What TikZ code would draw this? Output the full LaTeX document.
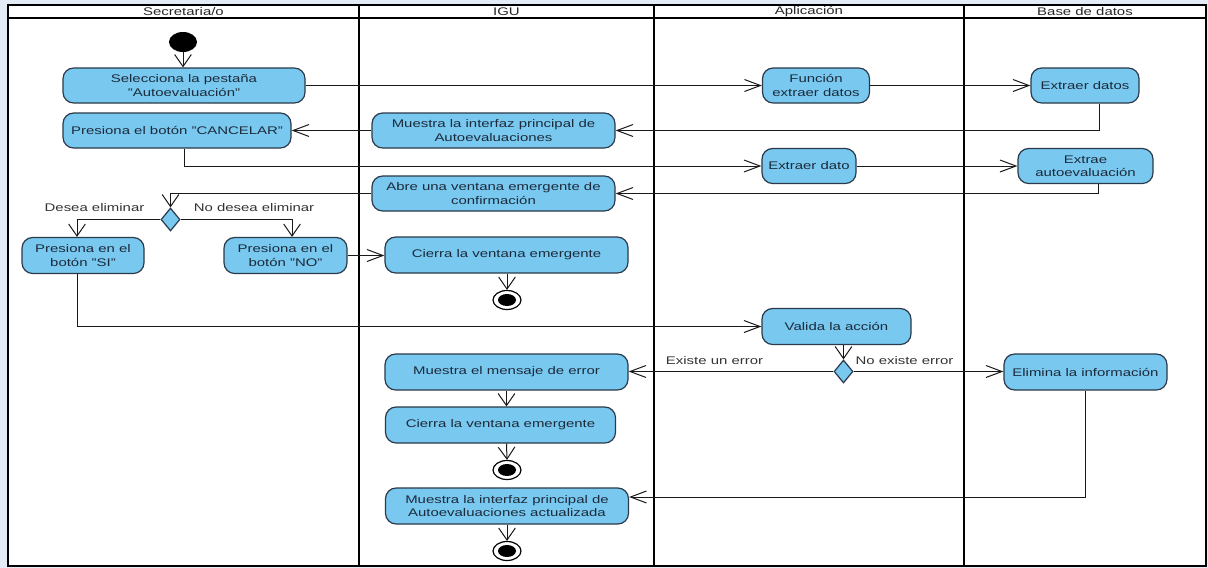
\documentclass[tikz,border=0pt]{standalone}
\usepackage{fontspec}
\setmainfont{Liberation Sans}[FakeStretch=1.35]
\usetikzlibrary{arrows.meta,shapes.geometric}
\definecolor{actfill}{HTML}{78C8F0}
\definecolor{actline}{HTML}{2B3A4A}
\definecolor{txt}{HTML}{1C2A3A}
\definecolor{bgblue}{HTML}{E3ECF6}
\begin{document}
\begin{tikzpicture}[x=0.75pt,y=-0.75pt,
  font=\fontsize{8.3}{9.9}\selectfont,
  act/.style={draw=actline, fill=actfill, rounded corners=8pt, line width=0.9pt, text=txt, align=center, inner sep=1pt},
  sz/.style 2 args={minimum width=#1*0.75pt, minimum height=#2*0.75pt},
  dec/.style={diamond, draw=actline, fill=actfill, line width=0.9pt, inner sep=0pt, minimum width=19*0.75pt, minimum height=23*0.75pt},
  fin/.style={ellipse, draw=black, line width=0.9pt, fill=white, inner sep=0pt, minimum width=28*0.75pt, minimum height=19*0.75pt},
  startnode/.style={ellipse, fill=black, inner sep=0pt, minimum width=28*0.75pt, minimum height=20*0.75pt},
  harr/.style={-{Straight Barb[length=12pt,width=9pt]}, line width=0.75pt, draw=black!90},
  varr/.style={-{Straight Barb[length=9pt,width=12.5pt]}, line width=0.75pt, draw=black!90},
  lbl/.style={text=black!80, inner sep=0pt},
  hdr/.style={text=black!85, inner sep=0pt}]
\useasboundingbox (0,0) rectangle (1208,568);
\fill[bgblue] (0,0) rectangle (1208,568);
\fill[white] (8,5) rectangle (1206,566);
% swimlanes
\draw[line width=1.5pt] (8,5) rectangle (1206,566);
\draw[line width=1.3pt] (8,18) -- (1206,18);
\draw[line width=2pt] (359,5) -- (359,566);
\draw[line width=2pt] (654,5) -- (654,566);
\draw[line width=2pt] (964,5) -- (964,566);
\node[hdr] (h1) at (183.5,12) {Secretaria/o};
\node[hdr] (h2) at (506.5,12) {IGU};
\node[hdr] (h3) at (809,12) {Aplicación};
\node[hdr] (h4) at (1085,12) {Base de datos};
% nodes
\node[startnode] (init) at (183,42) {};
\node[act, sz={242}{35}] (n1) at (184,85.5) {Selecciona la pestaña\\"Autoevaluación"};
\node[act, sz={228}{35}] (n2) at (177,130.5) {Presiona el botón "CANCELAR"};
\node[act, sz={243}{35}] (n3) at (493.5,130.5) {Muestra la interfaz principal de\\Autoevaluaciones};
\node[act, sz={243}{35}] (n4) at (493.5,193.5) {Abre una ventana emergente de\\confirmación};
\node[act, sz={107}{35}] (a1) at (816,85.5) {Función\\extraer datos};
\node[act, sz={94}{35}] (a2) at (809,166) {Extraer dato};
\node[act, sz={108}{35}] (d1) at (1085,85.5) {Extraer datos};
\node[act, sz={135}{35}] (d2) at (1085.5,166) {Extrae\\autoevaluación};
\node[dec] (k1) at (170.5,219.5) {};
\node[act, sz={122}{36}] (s1) at (83,255.5) {Presiona en el\\botón "SI"};
\node[act, sz={123}{36}] (s2) at (285.5,255.5) {Presiona en el\\botón "NO"};
\node[act, sz={243}{36}] (c1) at (506.5,255) {Cierra la ventana emergente};
\node[fin] (f1) at (507,300) {};
\fill (f1) ellipse [x radius=6.75pt, y radius=4.5pt];
\node[act, sz={149}{36}] (v) at (836.5,326.5) {Valida la acción};
\node[dec] (k2) at (843.5,371.5) {};
\node[act, sz={163}{36}] (el) at (1085.5,372) {Elimina la información};
\node[act, sz={243}{36}] (e1) at (506.5,372) {Muestra el mensaje de error};
\node[act, sz={230}{36}] (c2) at (500.5,425) {Cierra la ventana emergente};
\node[fin] (f2) at (507,470) {};
\fill (f2) ellipse [x radius=6.75pt, y radius=4.5pt];
\node[act, sz={243}{36}] (u) at (507,506) {Muestra la interfaz principal de\\Autoevaluaciones actualizada};
\node[fin] (f3) at (507,551) {};
\fill (f3) ellipse [x radius=6.75pt, y radius=4.5pt];
% labels
\node[lbl] (l1) at (94.5,208) {Desea eliminar};
\node[lbl] (l2) at (254,208) {No desea eliminar};
\node[lbl] (l3) at (714.5,361) {Existe un error};
\node[lbl] (l4) at (904.5,361) {No existe error};
% connectors
\draw[varr] (init.south) -- (init.south |- n1.north);
\draw[harr] (n1.east) -- (a1.west);
\draw[harr] (a1.east) -- (d1.west);
\draw[harr] ([xshift=10.5pt]d1.south) |- (n3.east);
\draw[harr] (n3.west) -- (n2.east);
\draw[harr] ([xshift=5.25pt]n2.south) |- (a2.west);
\draw[harr] (a2.east) -- (d2.west);
\draw[harr] ([xshift=10.1pt]d2.south) |- (n4.east);
\draw[varr] (n4.west) -| (k1.north);
\draw[varr] (k1.west) -| ([xshift=-4.5pt]s1.north);
\draw[varr] (k1.east) -| ([xshift=4.9pt]s2.north);
\draw[harr] (s2.east) -- (s2.east -| c1.west);
\draw[varr] (f1 |- c1.south) -- (f1.north);
\draw[harr] ([xshift=-4.5pt]s1.south) |- (v.west);
\draw[varr] (k2.north |- v.south) -- (k2.north);
\draw[harr] (k2.west) -- (k2.west -| e1.east);
\draw[harr] (k2.east) -- (k2.east -| el.west);
\draw[harr] (el.south) |- ([yshift=6.75pt]u.east);
\draw[varr] (e1.south) -- (e1.south |- c2.north);
\draw[varr] (e1.south |- c2.south) -- (f2.north);
\draw[varr] (u.south) -- (f3.north);
\end{tikzpicture}
\end{document}
